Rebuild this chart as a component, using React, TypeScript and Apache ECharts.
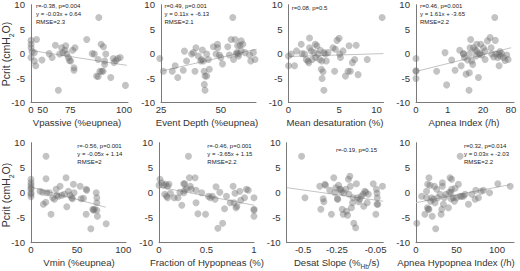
import React, { useEffect, useRef } from 'react';
import * as echarts from 'echarts';

// ---------- data ----------
const pcritTicks = [-10, -5, 0, 5, 10];

const vpassiveX = [0, 10, 8, 22, 33, 0, 33, 37, 39, 49, 58, 61, 64, 67.5, 69, 70, 71.5, 72, 72.7, 73.8, 74.5, 75.3, 76.5, 77.9, 77.3, 77.3, 66.5, 84.3, 90, 87, 88, 89, 89.7, 89.7, 91, 92, 90.5, 91.3, 91.8, 92.5, 92.5, 93, 95, 96, 96.3, 97, 97.7, 98.6, 100.5];
const vpassivePcrit = [2.7, 1.9, 1.2, 0.4, 0.2, -0.8, -1.5, -2.5, 2.9, -1.3, 0, -0.8, 1.7, -0.1, 1.2, 0.2, 0.7, 1.6, -0.1, -0.8, -1.4, -1.5, 0.7, 1.2, -2.9, -3.4, -7.5, 2.9, 7.4, 0, -0.1, -4.6, -4.7, -1.2, 1.9, 1.4, -3.6, -3.6, -3.6, -1.5, -2.2, -0.1, -4.9, -1.0, -1.8, -1.4, -1.0, -0.8, -6.5];
const vpassiveFitX = [0, 101];
const vpassiveFitY = [0.64, -2.4];
const vpassiveTicks = [0, 50, 75, 100];

const depthX = [24.5, 26, 29.7, 30.9, 32, 34.3, 34.8, 35.7, 37.8, 38.5, 39.2, 39.6, 40.6, 41.6, 42, 42.3, 42.7, 43, 43.1, 43.4, 43.4, 44.1, 44.1, 44.8, 45.2, 46.9, 48, 48.6, 48.7, 49.4, 50, 50.7, 52.9, 53.6, 55, 54.3, 55.3, 56, 56.4, 56.7, 57, 57.4, 57.4, 58, 58.5, 58.5, 59.2, 60.1, 62, 62.5, 63.6, 64.3];
const depthPcrit = [-1.0, -3.6, -3.6, -2.5, -4.9, -3.4, 0.5, -1.5, -0.1, 0.2, -3.6, 1.2, -0.5, -1.5, -1.2, 0.75, -1.5, -3.6, -6.3, -7.5, -4.6, -0.1, -4.6, -1.2, -3.2, 1.4, -0.1, 1.9, 1.2, -0.3, -0.8, -2.1, 1.4, -0.3, 7.4, 2.9, -1.2, 2.9, -0.1, 0.2, 1.6, 0, -0.5, 1.7, 2.6, 0.55, 1.9, 0.2, -0.3, -1.5, 0.2, -1.2];
const depthFitX = [25, 65];
const depthFitY = [-3.6, 0.9];
const depthTicks = [25, 50];

const desatX = [0, 0, 0.13, 0.35, 0.5, 0.89, 0.96, 1.19, 1.35, 1.51, 1.6, 1.67, 1.67, 1.84, 1.95, 2.12, 2.26, 2.3, 2.43, 2.54, 2.73, 2.8, 2.91, 2.97, 3.0, 3.1, 3.2, 3.2, 3.37, 3.48, 3.67, 4.26, 4.46, 4.55, 4.75, 5.0, 5.08, 5.17, 5.5, 5.8, 6.14, 6.27, 6.44, 6.7, 7.0, 7.2, 7.45, 8.7, 10.8];
const desatPcrit = [-0.5, -2.5, -0.1, -2.5, 0.55, 1.9, 0, -0.1, -1.2, -1.5, -1.85, 3.2, 1.2, 0.55, -1.2, 0.2, 1.9, -0.8, 1.6, -0.1, -1.2, 0.7, -3.2, -1.5, -5.1, -3.7, -7.5, 0.2, -0.1, -1.5, 0.2, 1.2, -3.6, 0.9, 2.7, 3.15, -0.1, -0.8, 0.55, -4.6, -3.6, 1.6, -3.6, -1.85, -1.2, 1.7, -4.3, -1.2, 7.4];
const desatFitX = [0, 11];
const desatFitY = [-0.6, 0.0];
const desatTicks = [0, 5, 10];

const apneaX = [0, 0, 0, 0, 0.18, 0.7, 0.87, 1.6, 2.3, 3.6, 4.1, 5.0, 5.0, 5.4, 6.2, 7.0, 7.8, 8.0, 8.0, 8.4, 8.8, 9.5, 10.2, 10.7, 12, 12.8, 13.4, 13.4, 15, 15.6, 16.6, 17.3, 18.4, 20.4, 22.5, 22.5, 25.7, 29.7, 31.4, 32.5, 36, 38, 39, 40, 44, 46, 47, 49, 50, 53, 58, 62, 67, 71];
const apneaPcrit = [-1.0, -3.6, -3.5, -5.1, -3.6, 0.2, -6.4, -1.3, -3.4, 0.7, -2.5, -0.1, 0, -0.8, -4.2, -1.3, -7.5, -0.1, -3.9, 1.2, 2.9, -1.5, -2.2, 1.2, 0.7, -0.5, 1.9, 0.55, -4.9, -0.1, 0, 1.9, -0.3, 1.2, -1.2, 0.55, 2.6, 3.3, 1.2, -0.1, -0.7, 7.4, 2.7, -0.1, -0.8, -0.1, -2.5, 0.4, -0.5, 0, -0.8, -1.4, -0.3, -1.2];
const apneaFitX = [0, 81];
const apneaFitY = [-3.65, 1.2];
const apneaTicks = [0, 1, 20, 80];

const vminX = [0, 0, 0, 0, 0, 0, 0, 0, 9.8, 12.7, 13.4, 16, 16.3, 16.3, 17, 20, 21.7, 23.6, 25.4, 27.2, 27.9, 29.7, 31.5, 33.3, 36.2, 38, 38.8, 40.6, 42.4, 44.2, 44.9, 46, 46.7, 53.3, 54.3, 56.9, 59.8, 60.5, 59.8, 64.9, 67, 67.8, 68.8, 70.7, 71.4, 71.4, 71.4, 72, 81.5];
const vminPcrit = [2.7, 2.0, 1.5, 1.0, 0, -0.3, -0.8, 0.7, 0.3, 0.1, -2.3, -1.9, 7.3, 2.8, 0, 0, -4.3, -1.0, -1.3, 0.7, -0.5, -0.7, 1.3, -0.5, -0.3, 3.0, -2.8, 0.3, -0.5, -1.0, -1.2, 1.7, 0, 1.3, -1.2, -1.1, 0.7, 0.5, -4.3, -7.2, -3.3, -3.5, -3.3, 0, -1.0, -2.0, -3.5, -4.7, -6.2];
const vminFitX = [0, 81];
const vminFitY = [1.14, -2.9];
const vminTicks = [0, 50, 100];

const hypoX = [0.01, 0.03, 0, 0.05, 0.07, 0.09, 0.105, 0.06, 0.08, 0.09, 0.12, 0.16, 0.2, 0.22, 0.24, 0.26, 0.27, 0.26, 0.27, 0.29, 0.31, 0.32, 0.33, 0.34, 0.38, 0.39, 0.39, 0.41, 0.45, 0.49, 0.52, 0.54, 0.56, 0.59, 0.6, 0.62, 0.64, 0.67, 0.69, 0.71, 0.75, 0.78, 0.79, 0.8, 0.81, 0.82, 0.85, 0.86, 0.9, 0.92, 0.94, 1, 1, 1, 1];
const hypoPcrit = [2.7, 2.0, 1.5, 1.5, 1.7, 1.3, 1.7, -0.3, -0.7, -1.0, -0.1, -1.0, -1.0, 0.1, -2.5, 1.8, 1.8, 0, 0.5, 0.8, 7.3, 3.0, 1.3, 0.7, 3.0, 0.5, -2.0, -4.2, 0, -4.3, -0.7, -1.0, -0.7, -1.3, 1.2, -7.1, 0.1, -6.1, -3.2, -0.7, -2.0, 1.3, -2.0, -0.1, -3.0, -2.7, 0.3, -1.5, -1.0, 0.7, 0.5, -1.0, -3.3, -3.5, -4.7];
const hypoFitX = [0, 1];
const hypoFitY = [1.15, -2.5];
const hypoTicks = [0, 0.5, 1];

const slopeX = [-0.513, -0.485, -0.37, -0.362, -0.345, -0.34, -0.333, -0.328, -0.298, -0.287, -0.271, -0.264, -0.258, -0.248, -0.245, -0.24, -0.232, -0.226, -0.222, -0.217, -0.211, -0.207, -0.195, -0.191, -0.185, -0.18, -0.177, -0.172, -0.169, -0.163, -0.157, -0.154, -0.15, -0.14, -0.136, -0.131, -0.124, -0.119, -0.111, -0.103, -0.1, -0.095, -0.09, -0.084, -0.079, -0.059, -0.049, -0.047, -0.045, -0.044, -0.045, -0.042, -0.027];
const slopePcrit = [7.3, -1.0, 1.3, -3.3, -1.2, -1.8, 1.7, 1.5, 0.5, -4.3, 3.0, 0, 1.0, -1.2, -1.3, 1.5, 0.7, 0.7, 0.2, -3.3, -4.3, 0, 0.7, -3.7, -4.5, 2.7, -0.3, 3.3, 1.3, -3.0, -2.0, -1.0, -6.1, -7.0, 1.8, -1.0, -1.8, -1.3, -0.7, -0.3, -2.7, 0.3, 0.1, -2.0, -0.3, 1.8, -4.3, 0.7, -0.1, -1.0, -2.3, -2.3, 1.3];
const slopeFitX = [-0.64, -0.025];
const slopeFitY = [1.0, -1.7];
const slopeTicks = [-0.5, -0.25, -0.05];

const ahiX = [1, 7, 11, 13, 13, 14, 14.4, 15.3, 16, 16, 17.3, 18.2, 19.4, 20, 21.5, 22.7, 23.5, 24.3, 25.6, 26.8, 29.7, 31, 31.8, 32.6, 32.6, 33.8, 35, 37, 40, 41.3, 42, 43, 43.3, 44, 44, 46, 47.4, 48.3, 50, 52.4, 54.5, 54.5, 56.5, 58.6, 60.6, 64.8, 68.9, 73, 73.8, 77.1, 80.4, 83.3, 90.8, 101, 116.3];
const ahiPcrit = [-6.1, -0.7, -4.3, -1.0, 0.3, -3.0, 1.7, -3.3, 3.0, -3.3, 1.5, -1.7, -1.0, -4.7, -1.3, 1.3, -2.0, -7.2, 0.7, -1.0, -0.3, -4.3, -3.3, 2.0, 1.3, -2.3, -1.0, -0.3, -3.0, 0.1, 3.0, 0.1, -1.2, 2.7, 0.7, -1.0, -1.7, 0.9, -1.0, 1.7, 7.3, -0.7, -0.7, -0.7, -0.3, -2.3, -0.3, -1.3, 0.5, -1.0, 0.3, 0.5, 0, 1.8, 1.3];
const ahiFitX = [0, 116];
const ahiFitY = [-2.0, 1.6];
const ahiTicks = [0, 50, 100];

// ---------- presentation ----------
const FONT = '"Liberation Sans", Arial, Helvetica, sans-serif';
const TXT = '#333333';
const AXIS = '#7a7a7a';

const ident = (v: number) => v;
const cube = (v: number) => Math.pow(v / 100, 3);
const pow08 = (v: number) => Math.pow(v, 0.8);
const root4 = (v: number) => Math.pow(v, 0.25);
const negPow = (v: number) => -Math.pow(-v, 0.65);

type Panel = {
  xs: number[]; ys: number[]; fx: number[]; fy: number[]; ticks: number[];
  range: [number, number]; tf: (v: number) => number;
  box: [number, number, number, number];
  title: string; titlePos: [number, number];
  stats: string; statsPos: [number, number];
};

const R1 = [4.7, 97.8];
const R2 = [142.7, 100];

const panels: Panel[] = [
  { xs: vpassiveX, ys: vpassivePcrit, fx: vpassiveFitX, fy: vpassiveFitY, ticks: vpassiveTicks, range: [0, 101.4], tf: cube,
    box: [31, R1[0], 97, R1[1]], title: '{a|Vpassive (%eupnea)}', titlePos: [77, 124],
    stats: 'r=-0.38, p=0.004\ny = -0.03x + 0.64\nRMSE=2.3', statsPos: [36, 1.7] },
  { xs: depthX, ys: depthPcrit, fx: depthFitX, fy: depthFitY, ticks: depthTicks, range: [25, 64.7], tf: ident,
    box: [161, R1[0], 95, R1[1]], title: '{a|Event Depth (%eupnea)}', titlePos: [207, 124],
    stats: 'r=0.49, p=0.001\ny = 0.11x + -6.13\nRMSE=2.1', statsPos: [164.5, 1.7] },
  { xs: desatX, ys: desatPcrit, fx: desatFitX, fy: desatFitY, ticks: desatTicks, range: [0, 11.0], tf: pow08,
    box: [288.5, R1[0], 95, R1[1]], title: '{a|Mean desaturation (%)}', titlePos: [335, 124],
    stats: 'r=0.08, p=0.5', statsPos: [291.7, 4.3] },
  { xs: apneaX, ys: apneaPcrit, fx: apneaFitX, fy: apneaFitY, ticks: apneaTicks, range: [0, 91], tf: root4,
    box: [416, R1[0], 98, R1[1]], title: '{a|Apnea Index (/h)}', titlePos: [464, 124],
    stats: 'r=0.46, p=0.001\ny = 1.61x + -3.65\nRMSE=2.2', statsPos: [420, 1.7] },
  { xs: vminX, ys: vminPcrit, fx: vminFitX, fy: vminFitY, ticks: vminTicks, range: [0, 103], tf: ident,
    box: [31, R2[0], 95, R2[1]], title: '{a|Vmin (%eupnea)}', titlePos: [79, 263.5],
    stats: 'r=-0.56, p=0.001\ny = -0.05x + 1.14\nRMSE=2', statsPos: [77.3, 142] },
  { xs: hypoX, ys: hypoPcrit, fx: hypoFitX, fy: hypoFitY, ticks: hypoTicks, range: [0, 1], tf: ident,
    box: [159, R2[0], 95, R2[1]], title: '{a|Fraction of Hypopneas (%)}', titlePos: [207, 263.5],
    stats: 'r=-0.46, p=0.001\ny = -3.65x + 1.15\nRMSE=2.2', statsPos: [207.3, 142] },
  { xs: slopeX, ys: slopePcrit, fx: slopeFitX, fy: slopeFitY, ticks: slopeTicks, range: [-0.642, -0.0246], tf: negPow,
    box: [286.7, R2[0], 96.6, R2[1]], title: '{a|Desat Slope (%}{s|Hb}{a|/s)}', titlePos: [336.7, 263.5],
    stats: 'r=-0.19, p=0.15', statsPos: [336, 145.7] },
  { xs: ahiX, ys: ahiPcrit, fx: ahiFitX, fy: ahiFitY, ticks: ahiTicks, range: [0, 121], tf: ident,
    box: [416, R2[0], 98, R2[1]], title: '{a|Apnea Hypopnea Index (/h)}', titlePos: [456, 263.5],
    stats: 'r=0.32, p=0.014\ny = 0.03x + -2.03\nRMSE=2.2', statsPos: [464, 142] },
];

const richText = (main: number, sub: number) => ({
  a: { fontSize: main, fontFamily: FONT, fill: TXT, verticalAlign: 'bottom', padding: [0, 0, 3, 0] },
  s: { fontSize: sub, fontFamily: FONT, fill: TXT, verticalAlign: 'bottom' },
});

function buildOption() {
  const grid = panels.map((p) => ({
    left: p.box[0], top: p.box[1], width: p.box[2], height: p.box[3],
    containLabel: false, outerBoundsMode: 'none',
  }));
  const xAxis = panels.map((p, i) => {
    const custom = p.ticks.map(p.tf);
    return {
      type: 'value', gridIndex: i,
      min: p.tf(p.range[0]), max: p.tf(p.range[1]),
      axisLine: { show: true, onZero: false, lineStyle: { color: AXIS, width: 1 } },
      axisTick: { show: false },
      splitLine: { show: false },
      axisLabel: {
        customValues: custom,
        margin: 1.5, fontSize: 9.6, color: TXT, fontFamily: FONT,
        formatter: (val: number) => {
          let best = 0;
          for (let k = 0; k < custom.length; k++) {
            if (Math.abs(custom[k] - val) < Math.abs(custom[best] - val)) best = k;
          }
          return String(p.ticks[best]);
        },
      },
    };
  });
  const yAxis = panels.map((p, i) => ({
    type: 'value', gridIndex: i, min: pcritTicks[0], max: pcritTicks[pcritTicks.length - 1], interval: 5,
    axisLine: { show: true, onZero: false, lineStyle: { color: AXIS, width: 1 } },
    axisTick: { show: false },
    splitLine: { show: false },
    axisLabel: { margin: 6, fontSize: 9.6, color: TXT, fontFamily: FONT },
  }));
  const series: any[] = [];
  panels.forEach((p, i) => {
    series.push({
      type: 'line', xAxisIndex: i, yAxisIndex: i, silent: true, z: 1,
      symbol: 'none', showSymbol: false,
      lineStyle: { color: '#c4c4c4', width: 1 },
      data: p.fx.map((x, k) => [p.tf(x), p.fy[k]]),
    });
    series.push({
      type: 'scatter', xAxisIndex: i, yAxisIndex: i, z: 2, clip: false,
      symbol: 'circle', symbolSize: 7,
      itemStyle: { color: 'rgba(105,105,105,0.5)' },
      data: p.xs.map((x, k) => [p.tf(x), p.ys[k]]),
    });
  });
  const graphic: any[] = [];
  [54, 195].forEach((cy) => {
    graphic.push({
      type: 'text', x: 7.5, y: cy, rotation: Math.PI / 2, silent: true,
      style: {
        text: '{a|Pcrit (cmH}{s|2}{a|O)}', rich: richText(10.5, 7),
        align: 'center', verticalAlign: 'middle',
      },
    });
  });
  panels.forEach((p) => {
    graphic.push({
      type: 'text', x: p.titlePos[0], y: p.titlePos[1], silent: true,
      style: { text: p.title, rich: richText(9.6, 6.5), align: 'center', verticalAlign: 'middle' },
    });
    graphic.push({
      type: 'text', x: p.statsPos[0], y: p.statsPos[1], silent: true,
      style: {
        text: p.stats, fontSize: 6, lineHeight: 8, fontFamily: FONT, fill: '#222',
        align: 'left', verticalAlign: 'top',
      },
    });
  });
  return { animation: false, backgroundColor: '#ffffff', grid, xAxis, yAxis, series, graphic };
}

export default function App() {
  const ref = useRef<HTMLDivElement>(null);
  useEffect(() => {
    const chart = echarts.init(ref.current!, null, { renderer: 'svg' });
    chart.setOption(buildOption() as any);
    return () => chart.dispose();
  }, []);
  return <div ref={ref} style={{ position: 'absolute', left: 0, top: 0, width: 520, height: 271 }} />;
}
